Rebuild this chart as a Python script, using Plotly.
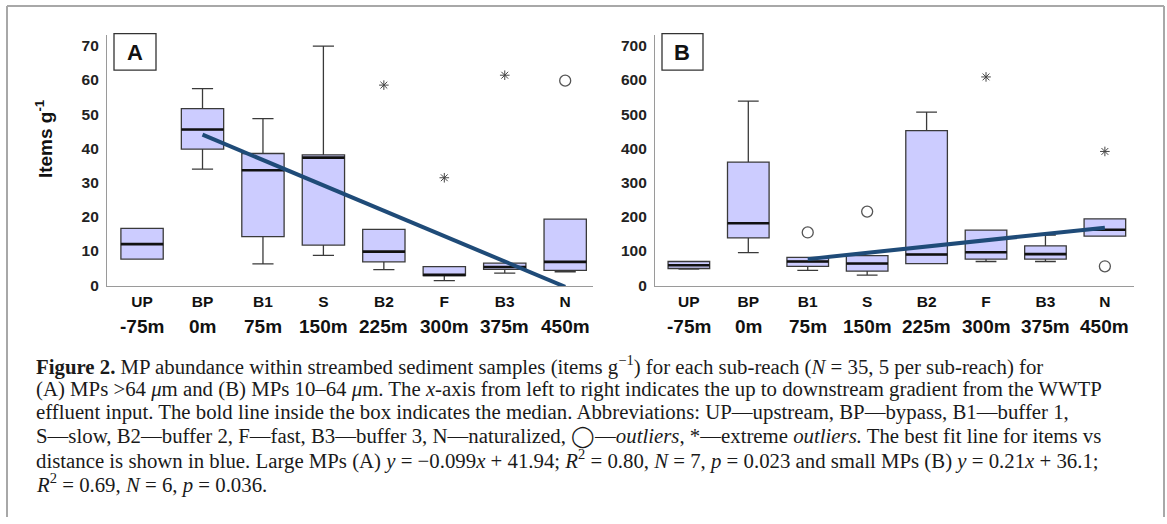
import plotly.graph_objects as go

# ---------------- data ----------------
categories = ["UP", "BP", "B1", "S", "B2", "F", "B3", "N"]
distances = ["-75m", "0m", "75m", "150m", "225m", "300m", "375m", "450m"]

# Panel A: MPs > 64 um (items g-1)
a_lower = [7.6, 33.9, 6.2, 8.7, 4.5, 1.3, 3.5, 3.9]
a_q1 = [7.6, 39.8, 14.2, 11.7, 6.8, 2.8, 4.6, 4.3]
a_median = [12.0, 45.5, 33.6, 37.3, 9.8, 3.0, 5.3, 6.8]
a_q3 = [16.6, 51.6, 38.5, 38.1, 16.3, 5.4, 6.4, 19.3]
a_upper = [16.6, 57.5, 48.7, 69.9, 16.3, 5.4, 6.4, 19.3]
a_outlier_cat = ["N"]
a_outlier_val = [59.8]
a_extreme_cat = ["B2", "F", "B3"]
a_extreme_val = [58.5, 31.4, 61.4]
a_fit_cat = ["BP", "N"]
a_fit_val = [44.0, -0.5]

# Panel B: MPs 10-64 um (items g-1)
b_lower = [46.7, 95, 43, 29.4, 63, 69, 69, 143]
b_q1 = [48.6, 138, 55, 41, 63, 76, 76, 143]
b_median = [58, 181, 69, 63, 89.5, 96, 90.5, 162]
b_q3 = [69, 360, 81, 86, 452, 161, 115, 194]
b_upper = [69, 538, 81, 86, 506, 161, 146, 194]
b_outlier_cat = ["B1", "S", "N"]
b_outlier_val = [154, 215, 55]
b_extreme_cat = ["F", "N"]
b_extreme_val = [609, 391]
b_fit_cat = ["B1", "N"]
b_fit_val = [76, 168]

y_ticks_a = [0, 10, 20, 30, 40, 50, 60, 70]
y_ticks_b = [0, 100, 200, 300, 400, 500, 600, 700]

caption_lines = [
    "<b>Figure 2.</b> MP abundance within streambed sediment samples (items g<sup>−1</sup>) for each sub-reach (<i>N</i> = 35, 5 per sub-reach) for",
    "(A) MPs &gt;64 <i>μ</i>m and (B) MPs 10–64 <i>μ</i>m. The <i>x</i>-axis from left to right indicates the up to downstream gradient from the WWTP",
    "effluent input. The bold line inside the box indicates the median. Abbreviations: UP—upstream, BP—bypass, B1—buffer 1,",
    "S—slow, B2—buffer 2, F—fast, B3—buffer 3, N—naturalized, ◯—<i>outliers</i>, *—extreme <i>outliers.</i> The best fit line for items vs",
    "distance is shown in blue. Large MPs (A) <i>y</i> = −0.099<i>x</i> + 41.94; <i>R</i><sup>2</sup> = 0.80, <i>N</i> = 7, <i>p</i> = 0.023 and small MPs (B) <i>y</i> = 0.21<i>x</i> + 36.1;",
    "<i>R</i><sup>2</sup> = 0.69, <i>N</i> = 6, <i>p</i> = 0.036.",
]

# ---------------- style ----------------
W, H = 1167, 524
BOX_FILL = "#ccccff"
BOX_LINE = "#3a3a3a"
FIT_COLOR = "#1f4b78"
AXIS_COLOR = "#9a9a9a"
SANS = "Liberation Sans, Arial, sans-serif"
SERIF = "Liberation Serif, Times New Roman, serif"
BOX_W = 0.7

idx = {c: i for i, c in enumerate(categories)}


def px_x(p):
    return p / W


def px_y(p):
    return 1 - p / H


fig = go.Figure()


def add_panel(xa, ya, lower, q1, med, q3, upper, o_cat, o_val, e_cat, e_val, f_cat, f_val):
    xs = list(range(len(categories)))
    fig.add_trace(go.Box(
        x=xs, q1=q1, median=med, q3=q3, lowerfence=lower, upperfence=upper,
        width=BOX_W, whiskerwidth=0.5, fillcolor=BOX_FILL,
        line=dict(color=BOX_LINE, width=1.3), boxpoints=False,
        xaxis=xa, yaxis=ya, showlegend=False, hoverinfo="skip",
    ))
    # bold median lines
    mx, my = [], []
    for i, m in zip(xs, med):
        mx += [i - BOX_W / 2, i + BOX_W / 2, None]
        my += [m, m, None]
    fig.add_trace(go.Scatter(x=mx, y=my, mode="lines", line=dict(color="#111111", width=2.6),
                             xaxis=xa, yaxis=ya, showlegend=False, hoverinfo="skip"))
    # outliers
    fig.add_trace(go.Scatter(x=[idx[c] for c in o_cat], y=o_val, mode="markers",
                             marker=dict(symbol="circle-open", size=11, color="#555555",
                                         line=dict(width=1.3, color="#555555")),
                             xaxis=xa, yaxis=ya, showlegend=False, cliponaxis=False))
    fig.add_trace(go.Scatter(x=[idx[c] for c in e_cat], y=e_val, mode="markers",
                             marker=dict(symbol="asterisk-open", size=8, color="#444444",
                                         line=dict(width=1.0, color="#444444")),
                             xaxis=xa, yaxis=ya, showlegend=False, cliponaxis=False))
    # best fit line
    fig.add_trace(go.Scatter(x=[idx[c] for c in f_cat], y=f_val, mode="lines",
                             line=dict(color=FIT_COLOR, width=4),
                             xaxis=xa, yaxis=ya, showlegend=False))


add_panel("x", "y", a_lower, a_q1, a_median, a_q3, a_upper,
          a_outlier_cat, a_outlier_val, a_extreme_cat, a_extreme_val, a_fit_cat, a_fit_val)
add_panel("x2", "y2", b_lower, b_q1, b_median, b_q3, b_upper,
          b_outlier_cat, b_outlier_val, b_extreme_cat, b_extreme_val, b_fit_cat, b_fit_val)

y_dom = [px_y(290), px_y(35)]
xaxis_common = dict(
    showline=True, linecolor=AXIS_COLOR, linewidth=1.2, showgrid=False, zeroline=False,
    ticks="", tickvals=list(range(len(categories))), ticktext=categories,
    tickfont=dict(family=SANS, size=15.5, color="#111111", weight="bold"),
    ticklabelstandoff=1,
)
yaxis_common = dict(
    showline=True, linecolor=AXIS_COLOR, linewidth=1.2, showgrid=False, zeroline=False,
    ticks="", tickfont=dict(family=SANS, size=15.5, color="#222222", weight="bold"),
    ticklabelstandoff=4, domain=y_dom,
)

fig.update_layout(
    width=W, height=H, margin=dict(l=0, r=0, t=0, b=0),
    paper_bgcolor="white", plot_bgcolor="white", showlegend=False,
    xaxis=dict(domain=[px_x(107), px_x(593)], range=[-0.58, 7.46], anchor="y", **xaxis_common),
    xaxis2=dict(domain=[px_x(655), px_x(1134)], range=[-0.57, 7.49], anchor="y2", **xaxis_common),
    yaxis=dict(range=[-0.3, 73.3], tickvals=y_ticks_a, anchor="x", **yaxis_common),
    yaxis2=dict(range=[-3, 733], tickvals=y_ticks_b, anchor="x2", **yaxis_common),
)

annotations = []
shapes = []
# distance labels under category names
for xa in ["x", "x2"]:
    for i, d in enumerate(distances):
        annotations.append(dict(
            x=i, y=px_y(331), xref=xa, yref="paper", text=d, showarrow=False,
            font=dict(family=SANS, size=19, color="#111111", weight="bold"),
            xanchor="center", yanchor="middle",
        ))

# panel letters in boxes
for letter, x0, x1 in [("A", 114, 156), ("B", 662, 703)]:
    shapes.append(dict(type="rect", xref="paper", yref="paper",
                       x0=px_x(x0), x1=px_x(x1), y0=px_y(71), y1=px_y(34),
                       line=dict(color="#333333", width=1.3), fillcolor="white"))
    annotations.append(dict(x=px_x((x0 + x1) / 2), y=px_y(53), xref="paper", yref="paper",
                            text="<b>%s</b>" % letter, showarrow=False,
                            font=dict(family=SANS, size=22, color="#111111"),
                            xanchor="center", yanchor="middle"))

# y-axis title
annotations.append(dict(x=px_x(44), y=px_y(141), xref="paper", yref="paper",
                        text="<b>Items g<sup>-1</sup></b>", showarrow=False, textangle=-90,
                        font=dict(family=SANS, size=19, color="#111111"),
                        xanchor="center", yanchor="middle"))

# caption
for k, line in enumerate(caption_lines):
    annotations.append(dict(x=px_x(34), y=px_y(370 + 24 * k), xref="paper", yref="paper",
                            text=line, showarrow=False, align="left",
                            font=dict(family=SERIF, size=20.8, color="#1a1a1a"),
                            xanchor="left", yanchor="middle"))

# outer frame (top, left, right edges; bottom runs off the page)
frame = dict(color="#a8a8a8", width=2)
shapes.append(dict(type="line", xref="paper", yref="paper",
                   x0=px_x(7), x1=px_x(1164), y0=px_y(6), y1=px_y(6), line=frame, layer="below"))
shapes.append(dict(type="line", xref="paper", yref="paper",
                   x0=px_x(7), x1=px_x(7), y0=px_y(6), y1=0, line=frame, layer="below"))
shapes.append(dict(type="line", xref="paper", yref="paper",
                   x0=px_x(1164), x1=px_x(1164), y0=px_y(6), y1=0, line=frame, layer="below"))

fig.update_layout(annotations=annotations, shapes=shapes)

fig.write_html(
    "out.html",
    config={"displayModeBar": False},
    post_script="document.body.style.margin='0';document.body.style.padding='0';",
)
